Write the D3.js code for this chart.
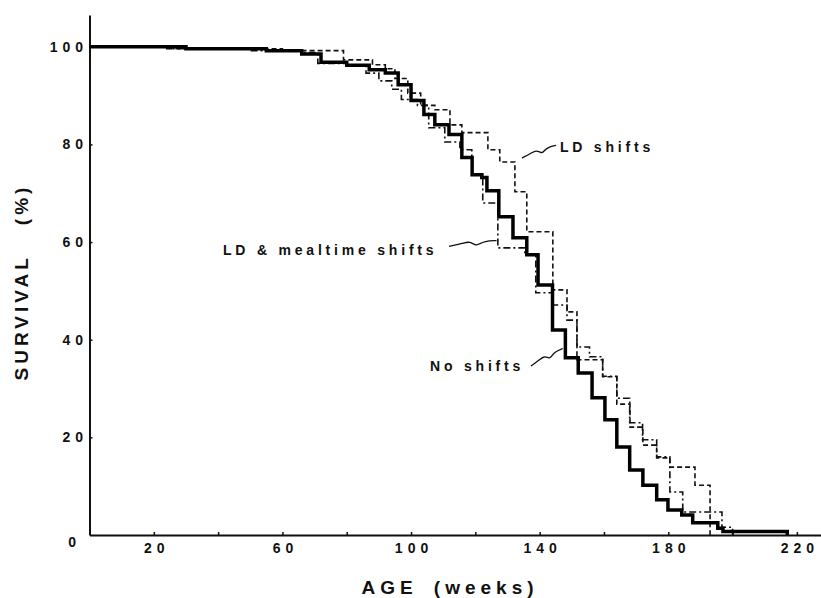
<!DOCTYPE html>
<html>
<head>
<meta charset="utf-8">
<script src="https://cdn.jsdelivr.net/npm/d3@7"></script>
<style>
  body { margin: 0; background: #fff; }
  svg { display: block; font-family: "Liberation Sans", Arial, sans-serif; }
  .tick text { font-weight: bold; font-size: 14px; letter-spacing: 5px; fill: #111; }
  .domain { stroke: #111; stroke-width: 2; }
  .tick line { stroke: #111; stroke-width: 1.5; }
</style>
</head>
<body>
<svg id="chart" width="821" height="598"></svg>
<script>
// survival curves: [age in weeks, % surviving after the step]
const noShifts = [
  [0, 100], [30, 99.6], [55, 99.2], [66, 98.5], [72, 96.8], [80, 96.2], [87, 95.3],
  [92, 94.6], [96, 92.2], [100, 89], [104, 86.1], [107.4, 84], [111.8, 82],
  [115.8, 77.3], [119, 73.8], [122, 73.2], [123.6, 70.5], [127.3, 65.2],
  [131.7, 60.9], [136, 57.4], [139.5, 51.2], [144, 42], [148, 36.3], [152, 33.2],
  [156.3, 28.1], [160.3, 23.6], [164, 18], [168, 13.3], [172.1, 10.2], [176.4, 7.2],
  [179.9, 5.1], [184.2, 4.1], [187.6, 2.5], [195.4, 1.4], [197, 0.7], [217, 0]
];
const ldShifts = [
  [0, 100], [25, 99.6], [60, 99.2], [79, 97.3], [88, 96.3], [92, 95.5], [95, 93.5],
  [99, 90.5], [103, 88], [107.4, 87.1], [112.1, 84], [115.8, 82.4], [123.9, 78.9],
  [127.6, 76.4], [132.3, 70.3], [136, 62.1], [144.1, 50.2], [148.5, 45.7],
  [151.6, 35.9], [159.6, 32.4], [164, 26.8], [168.1, 22.1], [172.1, 18.4],
  [176.4, 15.8], [180.5, 13.9], [188.3, 10.2], [193, 0]
];
const ldMealShifts = [
  [0, 100], [24, 99.6], [50, 99.2], [66, 98.8], [71, 96.6], [80, 96], [86, 94.6],
  [90, 93], [94, 91.3], [97, 89.2], [102, 88], [105.5, 83.4], [110.5, 80.5],
  [115.2, 78.9], [118.9, 73.8], [122.3, 68], [127, 58.8], [135.4, 57.4],
  [138.8, 49.6], [144, 47.1], [148.5, 44], [151.6, 38.5], [155.5, 36.5],
  [159.6, 32.5], [164, 28], [168, 23], [172, 19.5], [176.4, 16], [180.5, 8.8],
  [184.5, 4.7], [196.7, 1.6], [200, 0]
];

const xTicks = [20, 40, 60, 80, 100, 120, 140, 160, 180, 200, 220];
const xTickLabels = [20, 60, 100, 140, 180, 220];
const yTicks = [0, 20, 40, 60, 80, 100];

// label text, where it starts (week, %), and the squiggly leader ends
const annotations = [
  { text: "LD shifts", at: [146.3, 78.5], from: [134.5, 77.2], to: [145.1, 79.8] },
  { text: "LD & mealtime shifts", at: [41.5, 57.4], from: [111.8, 59.1], to: [126.6, 60.3] },
  { text: "No shifts", at: [105.9, 33.6], from: [137.3, 34.6], to: [147.2, 38.2] }
];

const svg = d3.select("#chart");

const x = d3.scaleLinear().domain([0, 227.5]).range([89.5, 821]);
const y = d3.scaleLinear().domain([0, 106.5]).range([535, 15]);

// axes
const xAxis = svg.append("g")
  .attr("transform", `translate(0,${y(0)})`)
  .call(d3.axisBottom(x)
    .tickValues(xTicks)
    .tickSizeInner(-3)
    .tickSizeOuter(0)
    .tickPadding(8)
    .tickFormat(d => xTickLabels.includes(d) ? d : ""));
xAxis.selectAll(".tick text").attr("dx", "2.5");

const yAxis = svg.append("g")
  .attr("transform", `translate(${x(0)},0)`)
  .call(d3.axisLeft(y)
    .tickValues(yTicks)
    .tickSizeInner(-3)
    .tickSizeOuter(0)
    .tickPadding(1.5));
yAxis.selectAll(".tick line").filter(d => d === 0).remove();
// the zero sits down in the corner
yAxis.selectAll(".tick text").filter(d => d === 0)
  .attr("dx", -7).attr("dy", "0.85em");

// curves
const line = d3.line()
  .x(d => x(d[0]))
  .y(d => y(d[1]))
  .curve(d3.curveStepAfter);

svg.append("path").datum(ldShifts)
  .attr("d", line).attr("fill", "none")
  .attr("stroke", "#111").attr("stroke-width", 1.6)
  .attr("stroke-dasharray", "5,3");

svg.append("path").datum(ldMealShifts)
  .attr("d", line).attr("fill", "none")
  .attr("stroke", "#111").attr("stroke-width", 1.6)
  .attr("stroke-dasharray", "7,3,2,3");

svg.append("path").datum(noShifts)
  .attr("d", line).attr("fill", "none")
  .attr("stroke", "#000").attr("stroke-width", 3.5)
  .attr("stroke-linejoin", "miter");

// annotations with their wavy leader lines
const wave = d3.line().curve(d3.curveBasis);
annotations.forEach(a => {
  svg.append("text")
    .attr("x", x(a.at[0]))
    .attr("y", y(a.at[1]))
    .attr("font-size", 14)
    .attr("font-weight", "bold")
    .attr("letter-spacing", 3.8)
    .attr("fill", "#111")
    .text(a.text);

  const x0 = x(a.from[0]), y0 = y(a.from[1]);
  const x1 = x(a.to[0]), y1 = y(a.to[1]);
  const dx = x1 - x0, dy = y1 - y0;
  const len = Math.hypot(dx, dy);
  const nx = -dy / len, ny = dx / len;
  const pts = [[0, 0], [0.3, -1.5], [0.45, -2.5], [0.55, 2.5], [0.62, 1.5], [0.75, -1], [1, 0]]
    .map(([t, o]) => [x0 + dx * t + nx * o, y0 + dy * t + ny * o]);
  svg.append("path")
    .attr("d", wave(pts))
    .attr("fill", "none")
    .attr("stroke", "#111")
    .attr("stroke-width", 1.3);
});

// axis titles
svg.append("text")
  .attr("x", 450)
  .attr("y", 594)
  .attr("text-anchor", "middle")
  .attr("font-size", 19)
  .attr("font-weight", "bold")
  .attr("letter-spacing", 5)
  .attr("word-spacing", 6)
  .attr("fill", "#111")
  .text("AGE (weeks)");

svg.append("text")
  .attr("transform", "translate(28,282) rotate(-90)")
  .attr("text-anchor", "middle")
  .attr("font-size", 19)
  .attr("font-weight", "bold")
  .attr("letter-spacing", 4)
  .attr("word-spacing", 20)
  .attr("fill", "#111")
  .text("SURVIVAL (%)");
</script>
</body>
</html>
